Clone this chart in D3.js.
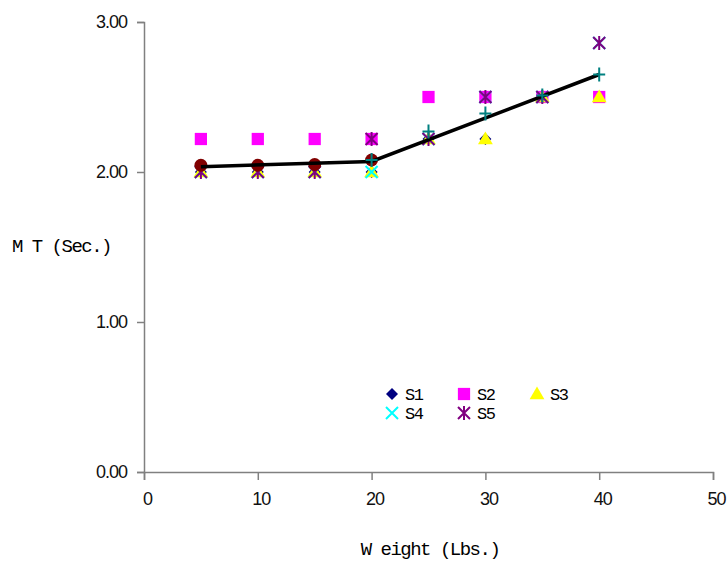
<!DOCTYPE html>
<html><head><meta charset="utf-8">
<script src="https://cdn.jsdelivr.net/npm/d3@7"></script>
<style>body{margin:0;background:#fff}</style>
</head><body>
<svg id="c" width="728" height="563"></svg>
<script>
const weights = [5, 10, 15, 20, 25, 30, 35, 40];
const s1 = [2.00, 2.00, 2.00, 2.00, 2.22, 2.22, 2.50, 2.50];
const s2 = [2.22, 2.22, 2.22, 2.22, 2.50, 2.50, 2.50, 2.50];
const s3 = [2.00, 2.00, 2.00, 2.00, 2.22, 2.22, 2.50, 2.50];
const s4 = [2.00, 2.00, 2.00, 2.00, 2.22, 2.50, 2.50, 2.86];
const s5 = [2.00, 2.00, 2.00, 2.22, 2.22, 2.50, 2.50, 2.86];
const meanX = [5, 10, 15, 20];
const meanY = [2.045, 2.045, 2.05, 2.08];
const fitX = [20, 25, 30, 35, 40];
const fitY = [2.08, 2.27, 2.39, 2.51, 2.65];
const lineX = [5, 20, 40];
const lineY = [2.035, 2.07, 2.65];
const xTicks = [0, 10, 20, 30, 40, 50];
const yTicks = [0, 1, 2, 3];

const svg = d3.select("#c");
const x = d3.scaleLinear().domain([0, 50]).range([144, 713]);
const y = d3.scaleLinear().domain([0, 3]).range([472, 22]);
const axisCol = "#808080";

const xa = svg.append("g").attr("transform", "translate(0,472)")
  .call(d3.axisBottom(x).tickValues(xTicks).tickSize(8).tickPadding(12).tickFormat(d3.format("d")));
const ya = svg.append("g").attr("transform", "translate(144,0)")
  .call(d3.axisLeft(y).tickValues(yTicks).tickSize(7).tickPadding(10).tickFormat(d3.format(".2f")));
[xa, ya].forEach(a => {
  a.select(".domain").attr("stroke", axisCol).attr("stroke-width", 1.5);
  a.selectAll(".tick line").attr("stroke", axisCol).attr("stroke-width", 1.5);
  a.selectAll("text").attr("font-family", "Liberation Sans, sans-serif")
    .attr("font-size", 18).attr("fill", "#111").attr("letter-spacing", "-1");
});
xa.selectAll("text").attr("dx", 3);

svg.append("text").attr("x", 430).attr("y", 555).attr("text-anchor", "middle")
  .attr("font-family", "Liberation Mono, monospace").attr("font-size", 19).attr("letter-spacing", "-1.5")
  .attr("fill", "#000").text("W eight (Lbs.)");
svg.append("text").attr("x", 12).attr("y", 252)
  .attr("font-family", "Liberation Mono, monospace").attr("font-size", 19).attr("letter-spacing", "-1.5")
  .attr("fill", "#000").text("M T (Sec.)");

function drawMarker(g, kind, color) {
  if (kind === "diamond") g.append("path").attr("d", "M0,-6L6,0L0,6L-6,0Z").attr("fill", color);
  else if (kind === "square") g.append("path").attr("d", d3.symbol(d3.symbolSquare, 150)()).attr("fill", color);
  else if (kind === "triangle") g.append("path").attr("d", d3.symbol(d3.symbolTriangle, 95)()).attr("fill", color).attr("transform", "translate(0,1)");
  else if (kind === "x") g.append("path").attr("d", "M-6,-6L6,6M-6,6L6,-6").attr("stroke", color).attr("stroke-width", 2).attr("fill", "none");
  else if (kind === "star") g.append("path").attr("d", "M-6,-6L6,6M-6,6L6,-6M0,-7L0,7").attr("stroke", color).attr("stroke-width", 2).attr("fill", "none");
  else if (kind === "plus") g.append("path").attr("d", "M-6,0L6,0M0,-7L0,7").attr("stroke", color).attr("stroke-width", 2).attr("fill", "none");
}

const series = [
  {name: "S1", vals: s1, kind: "diamond", color: "#000080"},
  {name: "S2", vals: s2, kind: "square", color: "#ff00ff"},
  {name: "S3", vals: s3, kind: "triangle", color: "#ffff00"},
  {name: "S4", vals: s4, kind: "x", color: "#00ffff"},
  {name: "S5", vals: s5, kind: "star", color: "#800080"}
];
series.forEach(s => {
  s.vals.forEach((v, i) => {
    const g = svg.append("g").attr("transform", `translate(${x(weights[i])},${y(v)})`);
    drawMarker(g, s.kind, s.color);
  });
});
meanX.forEach((xv, i) => {
  svg.append("circle").attr("cx", x(xv)).attr("cy", y(meanY[i])).attr("r", 6.5).attr("fill", "#800000");
});
svg.append("path").datum(lineX.map((d, i) => [d, lineY[i]]))
  .attr("d", d3.line().x(d => x(d[0])).y(d => y(d[1])))
  .attr("fill", "none").attr("stroke", "#000").attr("stroke-width", 3.5);
fitX.forEach((xv, i) => {
  const g = svg.append("g").attr("transform", `translate(${x(xv)},${y(fitY[i])})`);
  drawMarker(g, "plus", "#008080");
});

// legend
const legRows = [[0, 1, 2], [3, 4]];
const colX = [392, 464, 537];
const rowY = [394, 413];
legRows.forEach((row, r) => row.forEach((si, c) => {
  const s = series[si];
  const g = svg.append("g").attr("transform", `translate(${colX[c]},${rowY[r]})`);
  drawMarker(g, s.kind, s.color);
  svg.append("text").attr("x", colX[c] + 13).attr("y", rowY[r] + 6)
    .attr("font-family", "Liberation Mono, monospace").attr("font-size", 17).attr("letter-spacing", "-1.5")
    .attr("fill", "#000").text(s.name);
}));
</script>
</body></html>
